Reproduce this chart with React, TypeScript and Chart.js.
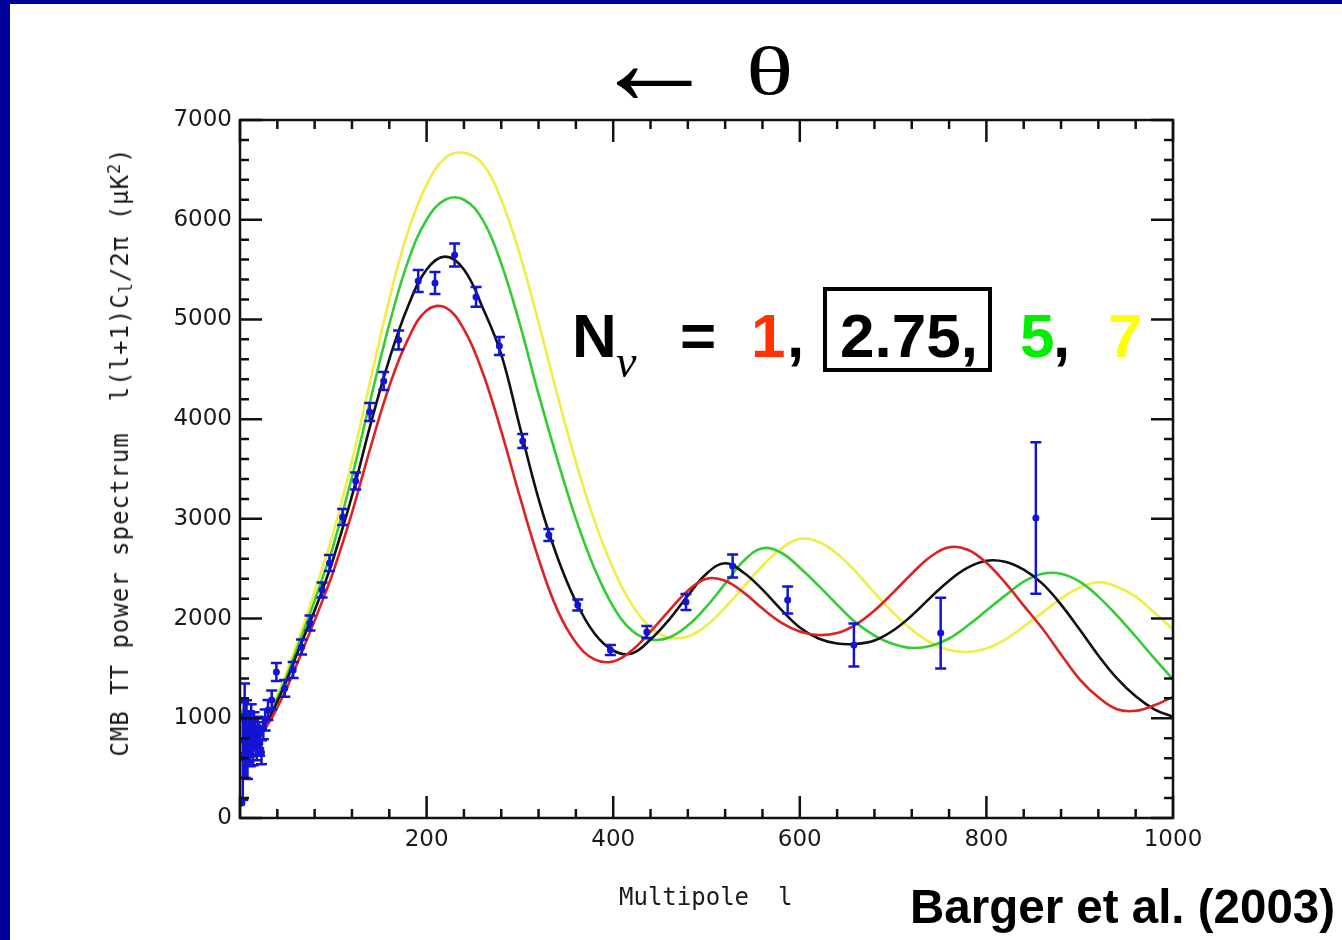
import React, { useEffect, useRef } from "react";
import { Chart, registerables } from "chart.js";

Chart.register(...registerables);

// Multipole sampling shared by the four model spectra
const multipoles = [
  2, 10, 20, 30, 40, 50, 60, 70, 80, 90, 100,
  120, 140, 160, 180, 200, 220, 240, 260, 280, 300,
  320, 340, 360, 380, 400, 420, 440, 460, 480, 500,
  520, 540, 560, 580, 600, 620, 640, 660, 680, 700,
  720, 740, 760, 780, 800, 820, 840, 860, 880, 900,
  920, 940, 960, 980, 1000,
];

// Model TT spectra, l(l+1)C_l/2π in μK², for N_ν = 1, 2.75, 5, 7
const spectrumNu1 = [
  1000, 800, 830, 940, 1110, 1300, 1520, 1750, 1980, 2220, 2470,
  3060, 3720, 4330, 4800, 5090, 5120, 4900, 4470, 3880, 3220,
  2600, 2090, 1760, 1590, 1570, 1680, 1870, 2080, 2280, 2400,
  2380, 2260, 2100, 1960, 1870, 1835, 1855, 1940, 2080, 2260,
  2450, 2620, 2715, 2690, 2560, 2360, 2130, 1900, 1640, 1390,
  1210, 1090, 1075, 1130, 1215,
];
const spectrumNu275 = [
  1050, 830, 860, 980, 1170, 1380, 1620, 1850, 2080, 2330, 2600,
  3230, 3950, 4600, 5130, 5500, 5630, 5500, 5120, 4650, 3920,
  3200, 2620, 2170, 1850, 1680, 1650, 1790, 1990, 2230, 2450,
  2555, 2460, 2290, 2090, 1910, 1800, 1750, 1745, 1780, 1880,
  2030, 2210, 2380, 2510, 2580, 2570, 2490, 2350, 2140, 1890,
  1630, 1400, 1220, 1090, 1015,
];
const spectrumNu5 = [
  1080, 850, 880, 1000, 1200, 1420, 1670, 1920, 2180, 2450, 2730,
  3420, 4200, 4950, 5580, 6000, 6200, 6200, 6000, 5560, 4950,
  4250, 3600, 3000, 2500, 2120, 1880, 1790, 1810, 1930, 2120,
  2350, 2580, 2705, 2660, 2510, 2330, 2140, 1960, 1830, 1745,
  1705, 1725, 1800, 1930, 2080, 2230, 2370, 2450, 2450, 2370,
  2220, 2030, 1820, 1600, 1390,
];
const spectrumNu7 = [
  1100, 870, 900, 1020, 1230, 1460, 1720, 1990, 2270, 2560, 2860,
  3580, 4400, 5200, 5880, 6350, 6620, 6670, 6560, 6200, 5650,
  4970, 4250, 3570, 2980, 2500, 2140, 1910, 1810, 1820, 1930,
  2110, 2320, 2530, 2700, 2800, 2770, 2650, 2470, 2260, 2060,
  1890, 1760, 1685, 1665, 1700, 1790, 1920, 2060, 2200, 2310,
  2365, 2320, 2220, 2060, 1890,
];

// Measured band powers with 1σ errors
const wmapL = [
  2, 3, 4, 5, 6, 7, 8, 9, 10, 11, 12, 13, 14, 15, 16, 17, 18, 19, 20, 21,
  23, 25, 27, 30, 34, 39, 48, 57, 66, 75, 88, 96,
  110, 124, 139, 154, 170, 191, 209, 230, 253, 278,
  303, 331, 362, 397, 436, 478, 528, 587, 658, 751, 853,
];
const wmapPower = [
  150, 600, 780, 1000, 700, 900, 650, 800, 850, 720, 950, 800, 700, 900, 850, 780, 720, 880, 830, 750,
  660, 900, 983, 1083, 1184, 1465, 1300, 1484, 1715, 1955, 2287, 2557,
  3019, 3380, 4072, 4383, 4794, 5386, 5366, 5647, 5226, 4734,
  3781, 2838, 2136, 1685, 1865, 2166, 2527, 2186, 1735, 1855, 3009,
];
const wmapError = [
  0, 420, 380, 350, 300, 280, 260, 240, 220, 200, 190, 180, 170, 160, 150, 145, 140, 135, 130, 125,
  120, 110, 105, 100, 95, 90, 85, 80, 75, 75, 75, 80,
  80, 85, 90, 90, 95, 110, 110, 115, 100, 90,
  70, 60, 55, 50, 60, 80, 115, 135, 215, 355, 760,
];

// Axis ticks
const xTickLabels = [200, 400, 600, 800, 1000];
const yTickLabels = [0, 1000, 2000, 3000, 4000, 5000, 6000, 7000];
const xMinorStep = 40;
const yMinorStep = 200;

const frameBlue = "#000099";
const pointBlue = "#1414d4";
const modelColors = ["#dd2222", "#111111", "#33cc33", "#eeee44"];
const modelSeries = [spectrumNu1, spectrumNu275, spectrumNu5, spectrumNu7];

const tickFont = { family: "'DejaVu Sans', sans-serif", size: 23 };

// Inward ticks on all four sides plus the box outline
const frameTicks = {
  id: "frameTicks",
  afterDraw(chart: any) {
    const { ctx, chartArea: a } = chart;
    const x = chart.scales.x;
    const y = chart.scales.y;
    ctx.save();
    ctx.strokeStyle = "#111";
    ctx.lineWidth = 2.5;
    ctx.lineCap = "butt";
    for (let v = 0; v <= 1000; v += xMinorStep) {
      const px = x.getPixelForValue(v);
      const len = xTickLabels.includes(v) || v === 0 ? 22 : 9;
      ctx.beginPath();
      ctx.moveTo(px, a.bottom);
      ctx.lineTo(px, a.bottom - len);
      ctx.moveTo(px, a.top);
      ctx.lineTo(px, a.top + len);
      ctx.stroke();
    }
    for (let v = 0; v <= 7000; v += yMinorStep) {
      const py = y.getPixelForValue(v);
      const len = yTickLabels.includes(v) ? 22 : 9;
      ctx.beginPath();
      ctx.moveTo(a.left, py);
      ctx.lineTo(a.left + len, py);
      ctx.moveTo(a.right, py);
      ctx.lineTo(a.right - len, py);
      ctx.stroke();
    }
    ctx.strokeRect(a.left, a.top, a.right - a.left, a.bottom - a.top);
    ctx.restore();
  },
};

// Vertical 1σ bars with short caps
const errorBars = {
  id: "errorBars",
  afterDatasetsDraw(chart: any) {
    const { ctx, chartArea: a } = chart;
    const x = chart.scales.x;
    const y = chart.scales.y;
    ctx.save();
    ctx.beginPath();
    ctx.rect(a.left, a.top, a.right - a.left, a.bottom - a.top);
    ctx.clip();
    ctx.strokeStyle = pointBlue;
    ctx.lineWidth = 2.5;
    wmapL.forEach((l, i) => {
      const err = wmapError[i];
      if (!err) return;
      const px = x.getPixelForValue(l);
      const top = y.getPixelForValue(wmapPower[i] + err);
      const bot = y.getPixelForValue(wmapPower[i] - err);
      ctx.beginPath();
      ctx.moveTo(px, top);
      ctx.lineTo(px, bot);
      ctx.moveTo(px - 5.5, top);
      ctx.lineTo(px + 5.5, top);
      ctx.moveTo(px - 5.5, bot);
      ctx.lineTo(px + 5.5, bot);
      ctx.stroke();
    });
    ctx.restore();
  },
};

function baselineTop(baseline: number, size: number, ascent: number) {
  return baseline - ascent * size;
}

const SANS = "'Liberation Sans', Arial, sans-serif";
const SERIF = "'Liberation Serif', 'Times New Roman', serif";
const MONO = "'DejaVu Sans Mono', monospace";

function Word(props: {
  text: string;
  left: number;
  baseline: number;
  size: number;
  color?: string;
  family?: string;
  weight?: string | number;
  italic?: boolean;
  ascent?: number;
  stretch?: number;
}) {
  const ascent = props.ascent ?? 0.8465;
  return (
    <span
      style={{
        position: "absolute",
        left: props.left,
        top: baselineTop(props.baseline, props.size, ascent),
        fontSize: props.size,
        lineHeight: 1,
        fontFamily: props.family ?? SANS,
        fontWeight: props.weight ?? "bold",
        fontStyle: props.italic ? "italic" : "normal",
        color: props.color ?? "#000",
        whiteSpace: "pre",
        transform: props.stretch ? `scaleX(${props.stretch})` : undefined,
        transformOrigin: "left center",
      }}
    >
      {props.text}
    </span>
  );
}

export default function App() {
  const canvasRef = useRef<HTMLCanvasElement>(null);

  useEffect(() => {
    const modelSets = modelSeries.map((vals, k) => ({
      type: "line" as const,
      data: multipoles.map((l, i) => ({ x: l, y: vals[i] })),
      borderColor: modelColors[k],
      borderWidth: 2.6,
      pointRadius: 0,
      tension: 0.4,
      fill: false,
    }));
    const chart = new Chart(canvasRef.current!, {
      type: "line",
      data: {
        datasets: [
          {
            type: "line",
            data: wmapL.map((l, i) => ({ x: l, y: wmapPower[i] })),
            showLine: false,
            pointRadius: 3.5,
            pointBackgroundColor: pointBlue,
            pointBorderColor: pointBlue,
            pointBorderWidth: 0,
          },
          ...modelSets,
        ] as any,
      },
      options: {
        animation: false,
        responsive: false,
        maintainAspectRatio: false,
        events: [],
        layout: { padding: 0 },
        plugins: { legend: { display: false }, tooltip: { enabled: false } },
        scales: {
          x: {
            type: "linear",
            position: "bottom",
            min: 0,
            max: 1000,
            grid: { display: false, drawTicks: false },
            border: { display: false },
            ticks: {
              stepSize: 200,
              padding: 8,
              autoSkip: false,
              maxRotation: 0,
              color: "#1a1a1a",
              font: tickFont,
              callback: (v: any) => (xTickLabels.includes(Number(v)) ? String(v) : ""),
            },
            afterFit: (s: any) => {
              s.height = 122;
            },
          },
          y: {
            type: "linear",
            position: "left",
            min: 0,
            max: 7000,
            grid: { display: false, drawTicks: false },
            border: { display: false },
            ticks: {
              stepSize: 1000,
              padding: 8,
              autoSkip: false,
              color: "#1a1a1a",
              font: tickFont,
              callback: (v: any) => (yTickLabels.includes(Number(v)) ? String(v) : ""),
            },
            afterFit: (s: any) => {
              s.width = 240;
            },
          },
          xTop: {
            type: "linear",
            position: "top",
            min: 0,
            max: 1000,
            grid: { display: false, drawTicks: false },
            border: { display: false },
            ticks: { display: false },
            afterFit: (s: any) => {
              s.height = 120;
            },
          },
          yRight: {
            type: "linear",
            position: "right",
            min: 0,
            max: 7000,
            grid: { display: false, drawTicks: false },
            border: { display: false },
            ticks: { display: false },
            afterFit: (s: any) => {
              s.width = 169;
            },
          },
        },
      },
      plugins: [errorBars, frameTicks],
    });
    return () => chart.destroy();
  }, []);

  return (
    <div
      style={{
        position: "absolute",
        left: 0,
        top: 0,
        width: 1342,
        height: 940,
        background: "#fff",
        overflow: "hidden",
      }}
    >
      <div style={{ position: "absolute", left: 0, top: 0, width: 1342, height: 4, background: frameBlue }} />
      <div style={{ position: "absolute", left: 0, top: 0, width: 10, height: 940, background: frameBlue }} />
      <canvas ref={canvasRef} width={1342} height={940} style={{ position: "absolute", left: 0, top: 0 }} />

      {/* heading */}
      <Word text="←" left={591} baseline={105} size={126} family={SERIF} weight="normal" ascent={0.8375} />
      <Word text="θ" left={746} baseline={94} size={68} family={SERIF} weight="normal" ascent={0.8375} stretch={1.45} />

      {/* y axis title */}
      <div
        style={{
          position: "absolute",
          left: 120,
          top: 452,
          transform: "translate(-50%, -50%) rotate(-90deg)",
          fontFamily: MONO,
          fontSize: 24,
          letterSpacing: 1,
          lineHeight: 1,
          color: "#1a1a1a",
          whiteSpace: "pre",
        }}
      >
        CMB TT power spectrum  l(l+1)C
        <sub style={{ fontSize: "0.7em", verticalAlign: "-0.25em", lineHeight: 0 }}>l</sub>
        /2π (μK
        <sup style={{ fontSize: "0.7em", verticalAlign: "0.5em", lineHeight: 0 }}>2</sup>)
      </div>

      {/* x axis title */}
      <Word text="Multipole  l" left={619} baseline={905} size={24} family={MONO} weight="normal" color="#1a1a1a" ascent={0.846} />

      {/* neutrino number annotation */}
      <Word text="N" left={572} baseline={357} size={62} />
      <Word text="ν" left={616} baseline={378} size={46} family={SERIF} weight="normal" italic ascent={0.8375} />
      <Word text="=" left={680} baseline={357} size={62} />
      <Word text="1" left={751} baseline={357} size={62} color="#ff3300" />
      <Word text="," left={787} baseline={357} size={62} />
      <div
        style={{
          position: "absolute",
          left: 823,
          top: 287,
          width: 169,
          height: 85,
          border: "4px solid #000",
          boxSizing: "border-box",
        }}
      />
      <Word text="2.75," left={840} baseline={357} size={62} />
      <Word text="5" left={1020} baseline={357} size={62} color="#00ee00" />
      <Word text="," left={1053} baseline={357} size={62} />
      <Word text="7" left={1108} baseline={357} size={62} color="#ffff00" />

      {/* citation */}
      <Word text="Barger et al. (2003)" left={910} baseline={923} size={47.5} />
    </div>
  );
}
